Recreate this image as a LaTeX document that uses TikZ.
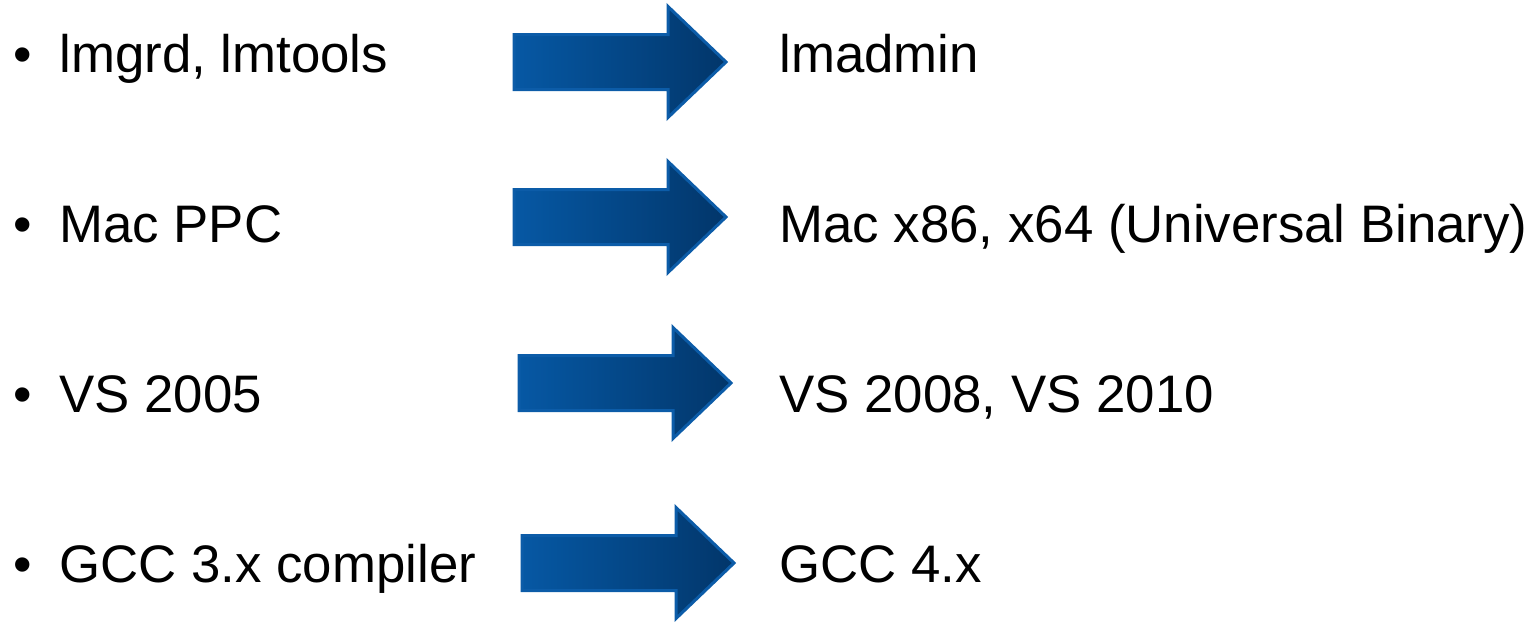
\documentclass[tikz,border=0pt]{standalone}
\usepackage{fontspec}
\setmainfont{Liberation Sans}
\definecolor{arrowlight}{RGB}{6,88,164}
\definecolor{arrowdark}{RGB}{2,54,106}
\definecolor{arrowedge}{RGB}{12,92,168}
\tikzset{
  item/.style={anchor=base west,inner sep=0pt,font=\fontsize{26.4}{32}\selectfont},
  migarrow/.style={left color=arrowlight,right color=arrowdark,draw=arrowedge,line width=1.5pt,line join=miter}
}
\begin{document}
\begin{tikzpicture}[x=0.5pt,y=-0.5pt]
\useasboundingbox (0,0) rectangle (1540,621);
% Rows: old item, arrow, new item
\foreach \i/\base/\ax/\ay/\old/\new in {
  1/72/514/62/{lmgrd, lmtools}/{lmadmin},
  2/242/514/217/{Mac PPC}/{Mac x86, x64 (Universal Binary)},
  3/412/519/383/{VS 2005}/{VS 2008, VS 2010},
  4/582/522/563/{GCC 3.x compiler}/{GCC 4.x}}{
  \node[item] (b\i) at (13,\base) {\textbullet};
  \node[item] (l\i) at (59,\base) {\old};
  \node[item] (r\i) at (779,\base) {\new};
  % Block arrow
  \draw[migarrow] (\ax,\ay-27.5) -- ++(154,0) -- ++(0,-28) -- (\ax+212,\ay)
    -- (\ax+154,\ay+55.5) -- ++(0,-28) -- (\ax,\ay+27.5) -- cycle;
}
\end{tikzpicture}
\end{document}
